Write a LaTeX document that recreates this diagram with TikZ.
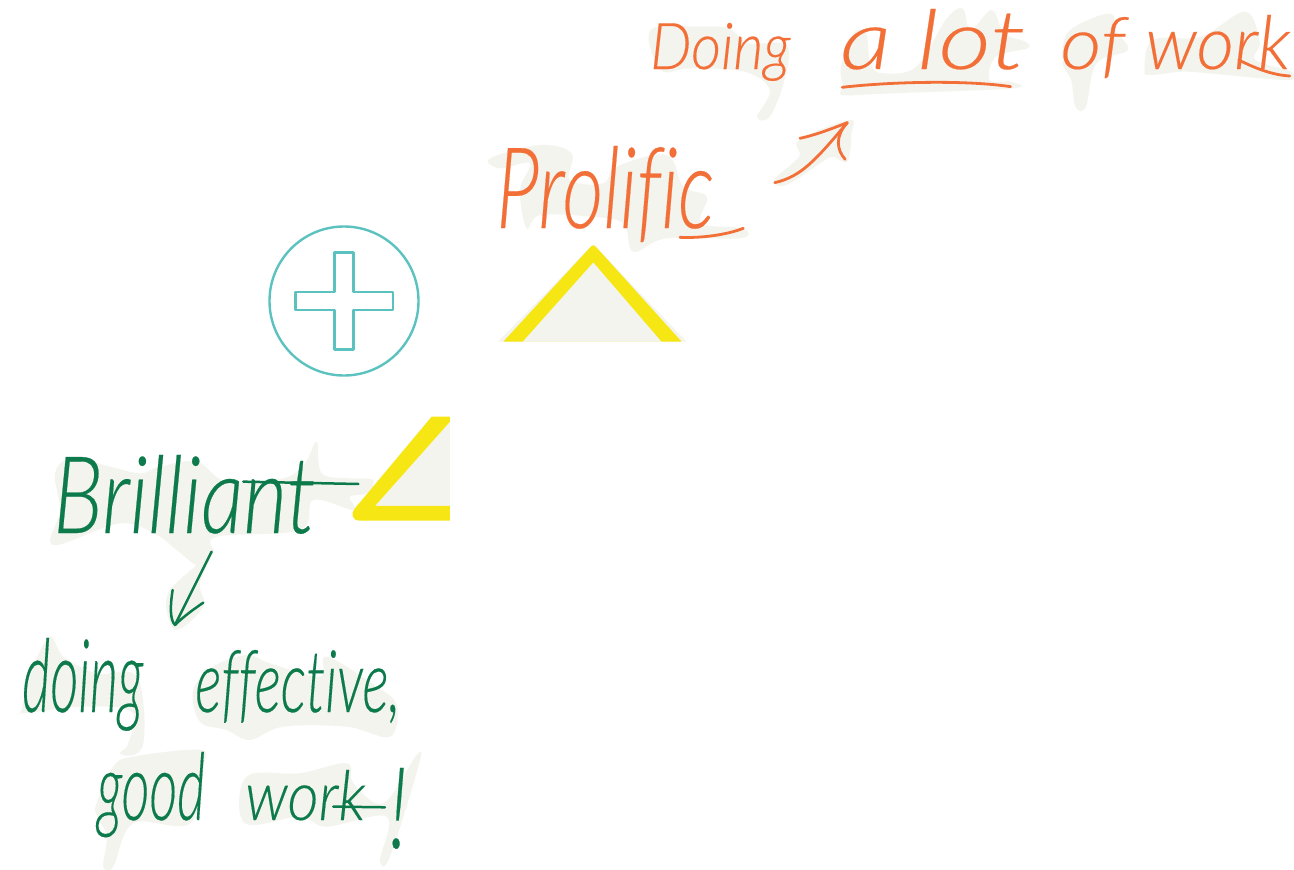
\documentclass[tikz,border=0pt]{standalone}
\usepackage{graphicx}
\usepackage{fontspec}
\setmainfont{Liberation Serif}
\newfontfamily\handfont[ItalicFont={Lato Light Italic},ItalicFeatures={Ligatures=CommonOff,FakeBold=0.25},Ligatures=CommonOff]{Lato Light}
\definecolor{halo}{HTML}{F3F4EE}
\definecolor{orangeink}{HTML}{F36F38}
\definecolor{greenink}{HTML}{0D7A4B}
\definecolor{markyellow}{HTML}{F5E614}
\definecolor{tealline}{HTML}{5CC2BF}
\newcommand{\wordbox}[3]{\resizebox{#1pt}{#2pt}{#3}}
\tikzset{
  blob/.style={fill=halo,draw=none},
  orangehand/.style={inner sep=0pt,text=orangeink,font=\handfont\itshape},
  greenhand/.style={inner sep=0pt,text=greenink,font=\handfont\itshape},
  orangestroke/.style={draw=orangeink,line width=2.8pt,line cap=round,line join=round},
  greenstroke/.style={draw=greenink,line width=2.5pt,line cap=round,line join=round},
  tealstroke/.style={draw=tealline,line width=2.4pt,line join=round},
  zoomA/.style={shift={(250,130)},x=0.3333pt,y=-0.3333pt},
  zoomB/.style={shift={(640,0)},x=0.4187pt,y=-0.3333pt},
  zoomC/.style={shift={(0,410)},x=0.3333pt,y=-0.3333pt},
}
\begin{document}
\begin{tikzpicture}[x=1pt,y=-1pt]
\useasboundingbox (0,0) rectangle (1294,870);
\fill[white] (0,0) rectangle (1294,870);

% --- halos, top right
\begin{scope}[zoomB]
\fill[blob] plot[smooth cycle,tension=0.6] coordinates {(25,90)(140,80)(210,85)(260,130)(350,135)(345,240)(310,350)(280,350)(310,270)(250,215)(120,205)(50,210)};
\fill[blob] plot[smooth cycle,tension=0.6] coordinates {(485,260)(480,200)(510,100)(540,100)(550,190)(580,220)(660,200)(730,60)(770,25)(790,90)(840,30)(870,100)(920,125)(925,145)(850,170)(835,240)(885,245)(890,265)(600,280)(485,285)};
\fill[blob] plot[smooth cycle,tension=0.6] coordinates {(1010,190)(1020,100)(1090,50)(1130,45)(1135,90)(1165,150)(1090,190)(1065,320)(1040,320)(1030,240)};
\fill[blob] plot[smooth cycle,tension=0.6] coordinates {(1205,210)(1225,120)(1340,110)(1445,35)(1480,125)(1470,180)(1555,215)(1550,240)(1400,225)(1300,215)(1220,225)};
\fill[blob] plot[smooth cycle,tension=0.6] coordinates {(320,540)(380,470)(380,420)(500,360)(505,400)(495,485)(460,470)(430,490)(350,555)};
\end{scope}
% --- halo, Prolific
\begin{scope}[zoomA]
\fill[blob] plot[smooth cycle,tension=0.6] coordinates {(720,85)(870,45)(965,70)(960,150)(1060,160)(1100,110)(1250,75)(1300,170)(1370,200)(1355,280)(1480,295)(1470,325)(1250,325)(1150,365)(1120,280)(1020,260)(870,255)(830,295)(810,180)(840,100)(750,115)};
\fill[halo] (745,635) -- (1030,343) -- (1310,635) -- cycle;
\fill[markyellow,even odd rule] (760,635) -- (1018,355) .. controls (1030,343) .. (1042,355) -- (1295,635) -- cycle (818,635) -- (1030,397) -- (1235,635) -- cycle;
\end{scope}
% --- halos, left
\begin{scope}[zoomC]
\fill[blob] plot[smooth cycle,tension=0.6] coordinates {(165,190)(215,145)(330,170)(420,190)(480,170)(590,155)(680,215)(850,205)(915,160)(950,95)(965,190)(1050,205)(1120,210)(1100,250)(1050,260)(1060,300)(940,270)(900,360)(650,380)(640,430)(600,470)(530,420)(470,375)(360,340)(160,405)(180,300)};
\fill[blob] plot[smooth cycle,tension=0.6] coordinates {(640,420)(600,520)(610,590)(530,660)(500,600)(510,540)(585,470)};
\fill[blob] plot[smooth cycle,tension=0.6] coordinates {(65,900)(100,770)(150,680)(190,740)(290,790)(400,790)(430,880)(430,1000)(400,1035)(360,1030)(385,1000)(395,905)(250,890)(70,910)};
\fill[blob] plot[smooth cycle,tension=0.6] coordinates {(580,840)(640,770)(740,735)(810,760)(960,800)(980,740)(1130,830)(1190,885)(1170,980)(1040,950)(850,950)(750,990)(680,960)(600,935)};
\fill[blob] plot[smooth cycle,tension=0.6] coordinates {(290,1180)(340,1070)(400,1040)(600,1020)(610,1070)(570,1240)(400,1240)(340,1370)(310,1370)(320,1280)(290,1215)};
\fill[blob] plot[smooth cycle,tension=0.6] coordinates {(735,1240)(740,1100)(900,1090)(1040,1060)(1060,1120)(1150,1180)(1250,1035)(1255,1070)(1170,1340)(1140,1350)(1160,1220)(980,1250)(900,1220)};
\fill[halo] (1350,35) -- (1125,288) -- (1350,288) -- cycle;
\fill[markyellow] (1295,20) -- (1350,20) -- (1350,35) -- (1125,288) -- (1350,288) -- (1350,332) -- (1078,332) .. controls (1055,330) and (1052,310) .. (1065,295) -- cycle;
\end{scope}

% --- plus badge
\node[circle,tealstroke,minimum size=149pt,inner sep=0pt] (badge) at (344,301) {};
\draw[tealstroke] (334.3,252.3) -- (353.3,252.3) -- (353.3,292) -- (392.7,292) -- (392.7,310) -- (353.3,310) -- (353.3,349.3) -- (334.3,349.3) -- (334.3,310) -- (295.3,310) -- (295.3,292) -- (334.3,292) -- cycle;

% --- handwriting
\node[orangehand,anchor=base west] (prolific) at (496,228) {\wordbox{218}{82}{Prolific}};
\node[orangehand,anchor=base west] (doing) at (650,69) {\wordbox{140}{46}{Doing}\hspace{50pt}\wordbox{185}{60}{a lot}\hspace{35pt}\wordbox{65}{52}{of}\hspace{20pt}\wordbox{145}{54}{work}};
\node[greenhand,anchor=base west] (brilliant) at (53,533) {\wordbox{262}{78}{Brilliant}};
\node[greenhand,anchor=base west] (effective) at (22,712) {\wordbox{121}{74}{doing}\hspace{52pt}\wordbox{205}{62}{effective,}};
\node[greenhand,anchor=base west] (goodwork) at (97,820) {\wordbox{108}{68}{good}\hspace{40pt}\wordbox{120}{50}{work}\hspace{24pt}\raisebox{-28pt}{\wordbox{18}{80}{!}}};

% --- flourishes that belong to the letters
\begin{scope}[zoomA]
\draw[orangestroke] (1290,322) .. controls (1350,325) and (1430,315) .. (1480,295);
\end{scope}
\begin{scope}[zoomB]
\draw[orangestroke] (483,262) .. controls (600,245) and (780,240) .. (885,260);
\draw[orangestroke] (1430,180) .. controls (1470,205) and (1510,225) .. (1552,228);
% arrow towards "a lot"
\coordinate (orA) at (322,548);
\coordinate (orB) at (495,368);
\draw[orangestroke] (orA) .. controls (385,530) and (420,480) .. (orB);
\draw[orangestroke] (382,415) .. controls (420,405) and (460,385) .. (orB) .. controls (465,410) and (470,450) .. (490,478);
\end{scope}
\begin{scope}[zoomC]
\draw[greenstroke] (730,215) -- (1075,222);
\draw[greenstroke] (1000,1190) -- (1155,1192);
% arrow towards "doing effective"
\coordinate (grA) at (635,425);
\coordinate (grB) at (525,645);
\draw[greenstroke] (grA) -- (grB);
\draw[greenstroke] (518,540) .. controls (510,590) and (510,630) .. (grB) .. controls (550,620) and (585,595) .. (610,578);
\end{scope}
\end{tikzpicture}
\end{document}
